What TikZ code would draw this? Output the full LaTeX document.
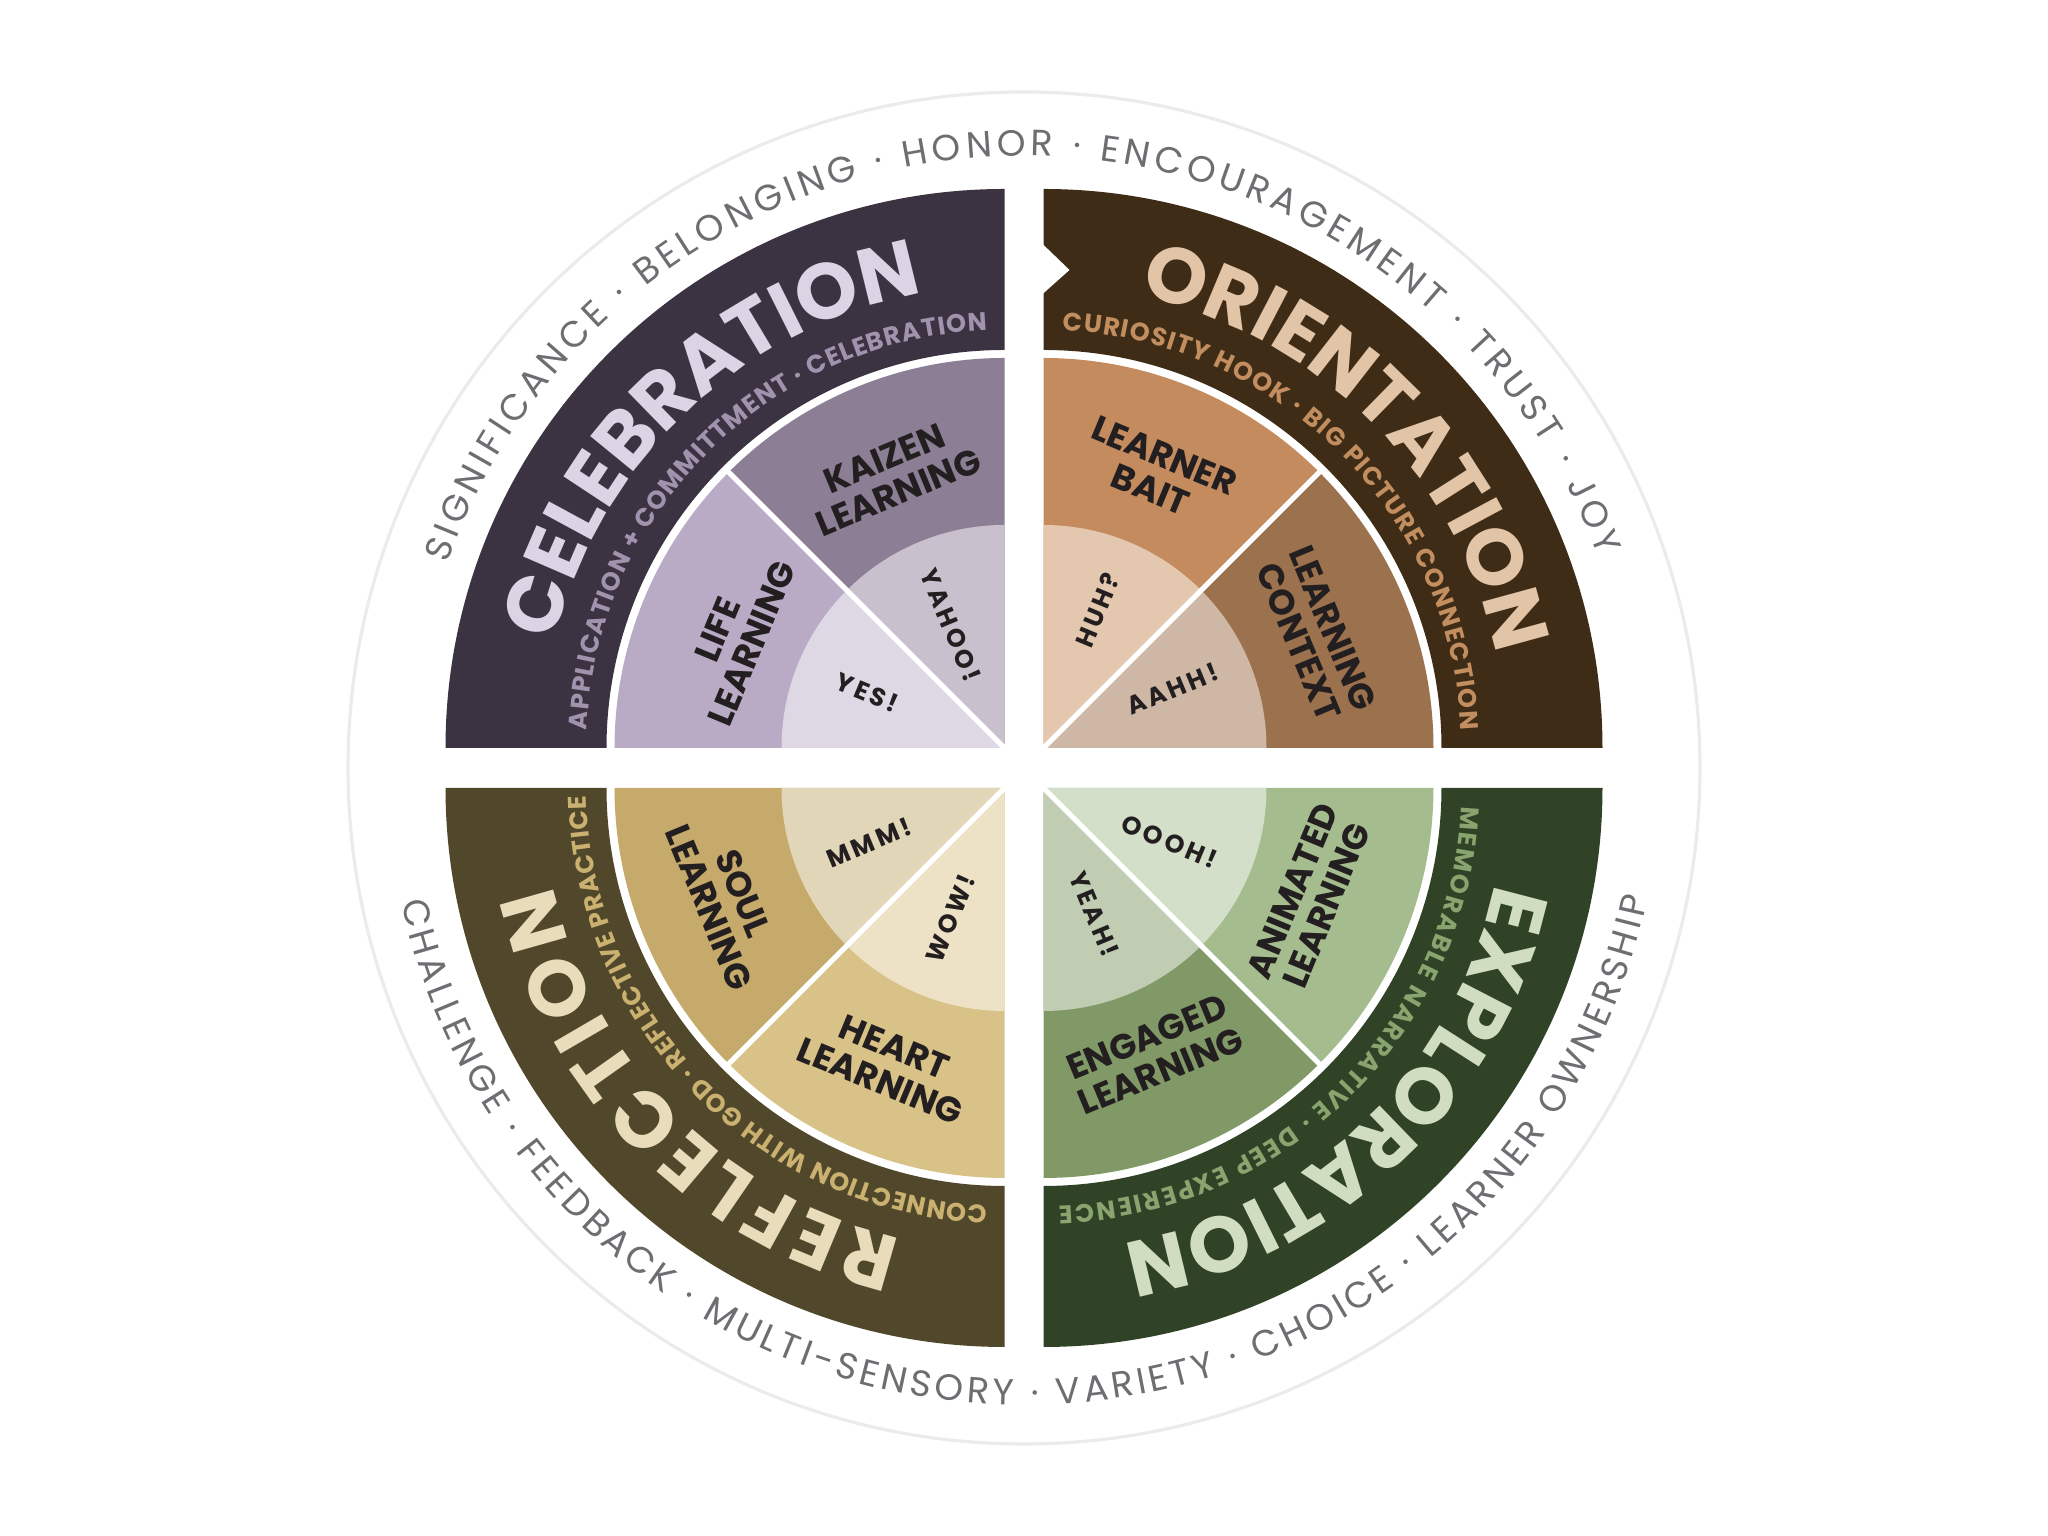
\documentclass[tikz,border=0pt]{standalone}
\usepackage{fontspec}
\setmainfont{Poppins}
\newfontfamily\espacada[LetterSpace=12]{Poppins}
\usetikzlibrary{decorations.text, calc}

% cores
\definecolor{celfaixa}{HTML}{3B3242}
\definecolor{celtitulo}{HTML}{DCD3E4}
\definecolor{celsub}{HTML}{A193AD}
\definecolor{kaizencor}{HTML}{8C7E95}
\definecolor{vidacor}{HTML}{B9ABC6}
\definecolor{yahoocor}{HTML}{C8C1CD}
\definecolor{yescor}{HTML}{DED8E4}
\definecolor{orifaixa}{HTML}{3E2C16}
\definecolor{orititulo}{HTML}{E2C4A7}
\definecolor{orisub}{HTML}{C28D5F}
\definecolor{iscacor}{HTML}{C38B5E}
\definecolor{contextocor}{HTML}{9C714D}
\definecolor{huhcor}{HTML}{E3C7AE}
\definecolor{aahhcor}{HTML}{CEB7A5}
\definecolor{expfaixa}{HTML}{304327}
\definecolor{exptitulo}{HTML}{D0DDC1}
\definecolor{expsub}{HTML}{89A46F}
\definecolor{animadocor}{HTML}{A5BD8E}
\definecolor{engajadocor}{HTML}{819966}
\definecolor{ooohcor}{HTML}{D3DFC9}
\definecolor{yeahcor}{HTML}{C0CDB3}
\definecolor{reffaixa}{HTML}{51482B}
\definecolor{reftitulo}{HTML}{E9DCBA}
\definecolor{refsub}{HTML}{CAB170}
\definecolor{almacor}{HTML}{C5AA6B}
\definecolor{coracaocor}{HTML}{D9C288}
\definecolor{mmmcor}{HTML}{E1D6B7}
\definecolor{wowcor}{HTML}{EDE2C5}
\definecolor{tinta}{HTML}{231F20}
\definecolor{aneltexto}{HTML}{6D6E71}
\definecolor{anellinha}{HTML}{EBEBEB}

\newcommand{\titulo}{\fontsize{22.5}{22.5}\selectfont\bfseries}
\newcommand{\subtitulo}{\fontsize{7.25}{8}\selectfont\bfseries}
\newcommand{\anel}{\fontsize{10.4}{10.4}\selectfont}

\tikzset{
  rotulo/.style={font=\fontsize{10}{10.5}\selectfont\bfseries, text=tinta, align=center, inner sep=0pt},
  grito/.style={font=\espacada\fontsize{7.2}{8}\selectfont\bfseries, text=tinta, inner sep=0pt},
  divisor/.style={white, line width=0.05cm},
  arco/.style n args={3}{decorate, decoration={text along path, text={|#1|#3}, text align={fit to path}, text color=#2}},
}

\begin{document}
\begin{tikzpicture}
\useasboundingbox (0,0) rectangle (20.48,15.36);
\coordinate (centro) at (10.24,7.68);

% anel externo
\draw[anellinha, line width=0.9pt] (centro) circle (6.76);
\path[arco={\anel}{aneltexto}{SIGNIFICANCE · BELONGING · HONOR · ENCOURAGEMENT · TRUST · JOY}] ($(centro)+(160.5:6.12)$) arc (160.5:20.2:6.12);
\path[arco={\anel}{aneltexto}{CHALLENGE · FEEDBACK · MULTI-SENSORY · VARIETY · CHOICE · LEARNER OWNERSHIP}] ($(centro)+(192.2:6.37)$) arc (192.2:348.2:6.37);

% Quadrante 1 - celebração
\begin{scope}[shift={(10.045,7.88)}]
\fill[celfaixa] (90:5.59) arc (90:180:5.59) -- (180:3.98) arc (180:90:3.98) -- cycle;
\fill[kaizencor] (0,0) -- (90:3.90) arc (90:135:3.90) -- cycle;
\fill[vidacor] (0,0) -- (135:3.90) arc (135:180:3.90) -- cycle;
\fill[yahoocor] (0,0) -- (90:2.23) arc (90:135:2.23) -- cycle;
\fill[yescor] (0,0) -- (135:2.23) arc (135:180:2.23) -- cycle;
\draw[divisor] (0,0) -- (135:3.94);
\node[rotulo, rotate=22.5] (kaizen) at (112.5:2.95) {KAIZEN\\LEARNING};
\node[rotulo, rotate=67.5] (vida) at (157.5:2.92) {LIFE\\LEARNING};
\node[grito, rotate=-67.5] (yahoo) at (113.5:1.34) {YAHOO!};
\node[grito, rotate=-22.5] (yes) at (158:1.48) {YES!};
\path[arco={\titulo}{celtitulo}{CELEBRATION}] (166.7:4.62) arc (166.7:102.4:4.62);
\path[arco={\subtitulo}{celsub}{APPLICATION + COMMITTMENT · CELEBRATION}] (177.6:4.18) arc (177.6:92.4:4.18);
\end{scope}

% Quadrante 2 - orientação
\begin{scope}[shift={(10.435,7.88)}]
\fill[orifaixa] (0:5.59) arc (0:90:5.59) -- (90:3.98) arc (90:0:3.98) -- cycle;
\fill[white] (-0.02,5.05) -- (0.26,4.78) -- (-0.02,4.53) -- cycle;  % entalhe de início
\fill[iscacor] (0,0) -- (45:3.90) arc (45:90:3.90) -- cycle;
\fill[contextocor] (0,0) -- (0:3.90) arc (0:45:3.90) -- cycle;
\fill[huhcor] (0,0) -- (45:2.23) arc (45:90:2.23) -- cycle;
\fill[aahhcor] (0,0) -- (0:2.23) arc (0:45:2.23) -- cycle;
\draw[divisor] (0,0) -- (45:3.94);
\node[rotulo, rotate=-22.5] (isca) at (67.5:2.98) {LEARNER\\BAIT};
\node[rotulo, rotate=-67.5] (contexto) at (22.5:2.95) {LEARNING\\CONTEXT};
\node[grito, rotate=67.5] (huh) at (68.5:1.48) {HUH?};
\node[grito, rotate=22.5] (aahh) at (24.5:1.42) {AAHH!};
\path[arco={\titulo}{orititulo}{ORIENTATION}] (78.1:4.62) arc (78.1:13.1:4.62);
\path[arco={\subtitulo}{orisub}{CURIOSITY HOOK · BIG PICTURE CONNECTION}] (87.4:4.18) arc (87.4:2.5:4.18);
\end{scope}

% Quadrante 3 - exploração
\begin{scope}[shift={(10.435,7.48)}]
\fill[expfaixa] (-90:5.59) arc (-90:0:5.59) -- (0:3.98) arc (0:-90:3.98) -- cycle;
\fill[animadocor] (0,0) -- (-45:3.90) arc (-45:0:3.90) -- cycle;
\fill[engajadocor] (0,0) -- (-90:3.90) arc (-90:-45:3.90) -- cycle;
\fill[ooohcor] (0,0) -- (-45:2.23) arc (-45:0:2.23) -- cycle;
\fill[yeahcor] (0,0) -- (-90:2.23) arc (-90:-45:2.23) -- cycle;
\draw[divisor] (0,0) -- (-45:3.94);
\node[rotulo, rotate=67.5] (animado) at (-22.5:2.88) {ANIMATED\\LEARNING};
\node[rotulo, rotate=22.5] (engajado) at (-67.5:2.88) {ENGAGED\\LEARNING};
\node[grito, rotate=-22.5] (oooh) at (-23:1.37) {OOOH!};
\node[grito, rotate=-67.5] (yeah) at (-68:1.36) {YEAH!};
\path[arco={\titulo}{exptitulo}{EXPLORATION}] (-11.95:4.62) arc (-11.95:-78.5:4.62);
\path[arco={\subtitulo}{expsub}{MEMORABLE NARRATIVE · DEEP EXPERIENCE}] (-2.5:4.18) arc (-2.5:-87.9:4.18);
\end{scope}

% Quadrante 4 - reflexão
\begin{scope}[shift={(10.045,7.48)}]
\fill[reffaixa] (180:5.59) arc (180:270:5.59) -- (270:3.98) arc (270:180:3.98) -- cycle;
\fill[coracaocor] (0,0) -- (-135:3.90) arc (-135:-90:3.90) -- cycle;
\fill[almacor] (0,0) -- (-180:3.90) arc (-180:-135:3.90) -- cycle;
\fill[wowcor] (0,0) -- (-135:2.23) arc (-135:-90:2.23) -- cycle;
\fill[mmmcor] (0,0) -- (-180:2.23) arc (-180:-135:2.23) -- cycle;
\draw[divisor] (0,0) -- (-135:3.94);
\node[rotulo, rotate=-22.5] (coracao) at (-113:3.00) {HEART\\LEARNING};
\node[rotulo, rotate=-67.5] (alma) at (-158:3.00) {SOUL\\LEARNING};
\node[grito, rotate=67.5] (wow) at (-112.5:1.41) {WOW!};
\node[grito, rotate=22.5] (mmm) at (-158:1.46) {MMM!};
\path[arco={\titulo}{reftitulo}{REFLECTION}] (-102.8:4.62) arc (-102.8:-167.8:4.62);
\path[arco={\subtitulo}{refsub}{CONNECTION WITH GOD · REFLECTIVE PRACTICE}] (-92.3:4.18) arc (-92.3:-178.9:4.18);
\end{scope}
\end{tikzpicture}
\end{document}
